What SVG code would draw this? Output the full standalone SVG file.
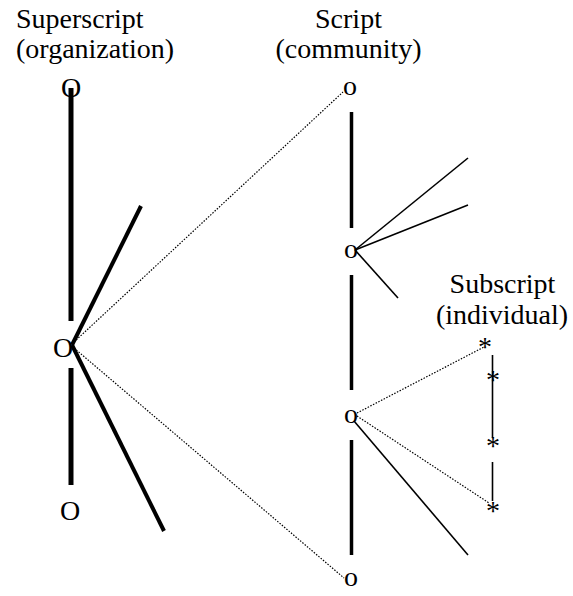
<svg xmlns="http://www.w3.org/2000/svg" width="573" height="596" viewBox="0 0 573 596">
<style>
text{font-family:"Liberation Serif","Times New Roman",serif;font-size:28px;fill:#000}
.mid{text-anchor:middle}
.thick{stroke:#000;stroke-width:5;fill:none}
.med{stroke:#000;stroke-width:4;fill:none}
.col{stroke:#000;stroke-width:3.5;fill:none}
.thin{stroke:#000;stroke-width:1.6;fill:none}
.dot{stroke:#000;stroke-width:1.2;stroke-dasharray:1.5 1.5;fill:none}
</style>
<rect width="573" height="596" fill="#fff"/>
<g id="labels">
<text x="16" y="28">Superscript</text>
<text x="16" y="58">(organization)</text>
<text class="mid" x="348.5" y="28">Script</text>
<text class="mid" x="348.5" y="58">(community)</text>
<text class="mid" x="502.5" y="293">Subscript</text>
<text class="mid" x="502" y="324">(individual)</text>
</g>
<g id="connectors">
<line class="thick" x1="71" y1="88" x2="71" y2="321"/>
<line class="thick" x1="71" y1="368" x2="71" y2="485"/>
<line class="med" x1="72" y1="345" x2="141" y2="206"/>
<line class="med" x1="72" y1="345" x2="164" y2="531"/>
<line class="dot" x1="74" y1="342" x2="343" y2="92"/>
<line class="dot" x1="74" y1="348" x2="344" y2="578"/>
<line class="col" x1="351.5" y1="112" x2="351.5" y2="228"/>
<line class="col" x1="351.5" y1="275" x2="351.5" y2="390"/>
<line class="col" x1="351.5" y1="440" x2="351.5" y2="555"/>
<line class="thin" x1="355" y1="250" x2="468" y2="158"/>
<line class="thin" x1="355" y1="250" x2="468" y2="205"/>
<line class="thin" x1="355" y1="250" x2="398" y2="298"/>
<line class="dot" x1="357" y1="413" x2="484" y2="347"/>
<line class="dot" x1="357" y1="416" x2="489" y2="503"/>
<line class="thin" x1="354" y1="421" x2="468" y2="555"/>
<line class="thin" x1="492.5" y1="355" x2="492.5" y2="438"/>
<line class="thin" x1="492.5" y1="462" x2="492.5" y2="501"/>
</g>
<g id="org-top"><text class="mid" x="71" y="97">O</text></g>
<g id="org-mid"><text class="mid" x="63" y="357">O</text></g>
<g id="org-bot"><text class="mid" x="70" y="520">O</text></g>
<g id="com-1"><text class="mid" x="350" y="95">o</text></g>
<g id="com-2"><text class="mid" x="351" y="258">o</text></g>
<g id="com-3"><text class="mid" x="351" y="423">o</text></g>
<g id="com-4"><text class="mid" x="351" y="586">o</text></g>
<g id="ind-1"><text class="mid" x="485" y="356">*</text></g>
<g id="ind-2"><text class="mid" x="493" y="389">*</text></g>
<g id="ind-3"><text class="mid" x="493" y="455">*</text></g>
<g id="ind-4"><text class="mid" x="493" y="520">*</text></g>
</svg>
